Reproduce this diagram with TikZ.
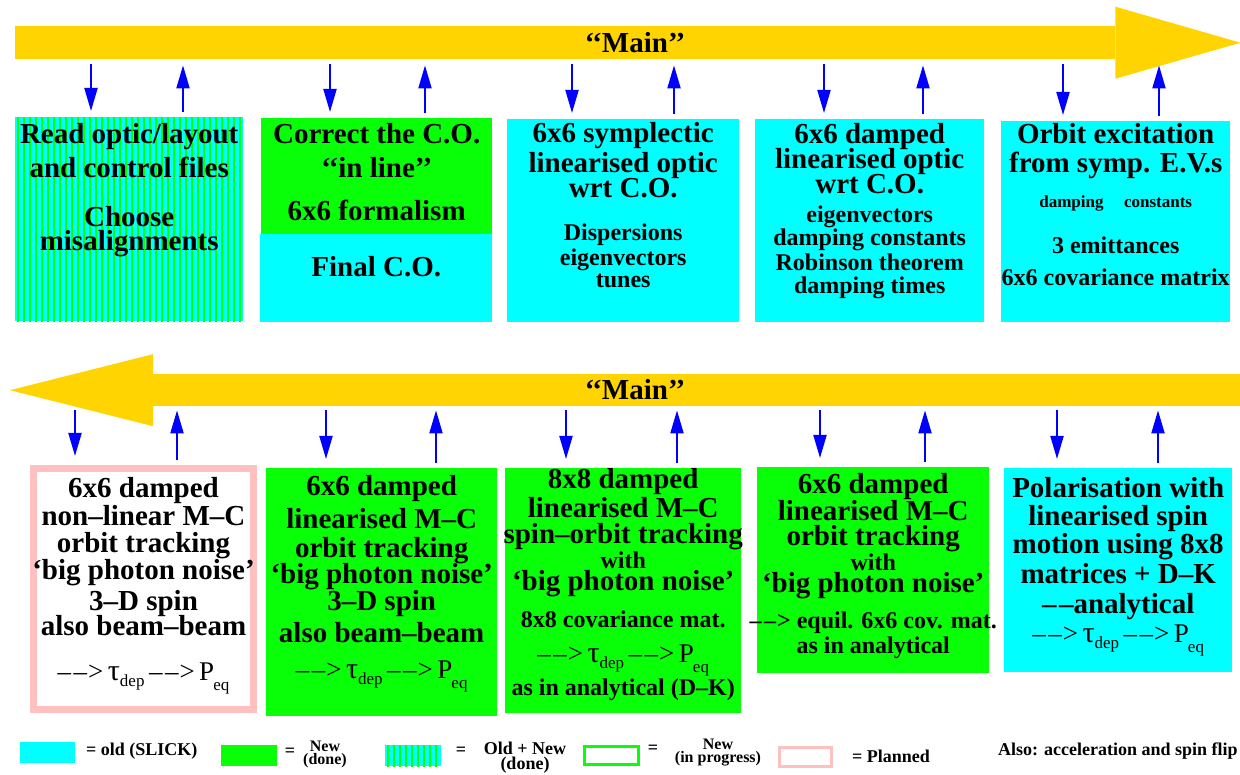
\documentclass[tikz,border=0pt]{standalone}
\usepackage{fontspec}
\setmainfont{Liberation Serif}
\usetikzlibrary{arrows.meta,positioning}
\definecolor{mainyellow}{RGB}{255,212,0}
\definecolor{oldcyan}{RGB}{0,255,255}
\definecolor{newgreen}{RGB}{8,255,8}
\definecolor{planpink}{RGB}{255,192,192}
\newcommand{\Lg}{\fontsize{29}{27}\selectfont}
\newcommand{\Md}{\fontsize{24}{24}\selectfont}
\newcommand{\Sm}{\fontsize{17}{18}\selectfont}
\newcommand{\Lgd}{\fontsize{18}{15}\selectfont\setlength{\lineskiplimit}{-20pt}}
\newcommand{\Lgs}{\fontsize{16}{13}\selectfont\setlength{\lineskiplimit}{-20pt}}
\newcommand{\fst}{\rule{0pt}{20pt}}
\newcommand{\qq}[1]{\textquoteleft\textquoteleft#1\textquoteright\textquoteright}
\newcommand{\dd}{\textendash\kern2.5pt\textendash}
\newcommand{\tdep}{{\fontsize{30}{30}\selectfont τ}\raisebox{-6pt}[0pt][0pt]{\fontsize{17}{17}\selectfont dep}}
\newcommand{\peq}{P\kern-1pt\raisebox{-10pt}[0pt][0pt]{\fontsize{17}{17}\selectfont eq}}
\newcommand{\depline}{{\mdseries\fontsize{27}{27}\selectfont \dd\kern1pt>\,\tdep\,\dd\kern1pt>\,\peq}}
\begin{document}
\begin{tikzpicture}
  [x=1pt,y=-1pt,every node/.style={inner sep=0pt,font=\bfseries\Lg}]
  \tikzstyle{box} = [anchor=north west,rectangle]
  \tikzstyle{txt} = [align=center]
  \tikzstyle{band} = [anchor=north west,fill=mainyellow]
  \tikzstyle{flow} = [draw=blue,line width=2pt,-{Triangle[length=23pt,width=13pt]},shorten <=5pt,shorten >=6pt]
  \tikzstyle{stripes} = [fill=oldcyan,path picture={\foreach \i in {2,8,...,240} \fill[newgreen] ([xshift=\i pt]path picture bounding box.north west) rectangle ++(2pt,-300pt);}]
  \tikzstyle{legtxt} = [font=\bfseries\Lgd,align=center]
  \useasboundingbox (0,0) rectangle (1240,775);
  \clip (0,0) rectangle (1240,775);

  \node[band,minimum width=1100pt,minimum height=33pt] (mainA) at (15,26) {};
  \fill[mainyellow] (mainA.east) ++(0,-36) -- ++(125,36) -- ++(-125,36) -- cycle;
  \node (mainAtxt) at (635,43) {\qq{Main}};
  \node[band,minimum width=1087pt,minimum height=32pt] (mainB) at (153,374) {};
  \fill[mainyellow] (mainB.west) ++(0,-36) -- ++(-143,36) -- ++(143,36) -- cycle;
  \node (mainBtxt) at (635,390) {\qq{Main}};

  \node[box,stripes,minimum width=228pt,minimum height=204pt] (t1) at (15,117) {};
  \node[box,fill=newgreen,minimum width=231pt,minimum height=116pt] (t2) at (261,118) {};
  \node[box,fill=oldcyan,minimum width=232pt,minimum height=88pt] (t2b) at (260,234) {};
  \node[box,fill=oldcyan,minimum width=232pt,minimum height=203pt] (t3) at (507,119) {};
  \node[box,fill=oldcyan,minimum width=229pt,minimum height=203pt] (t4) at (755,119) {};
  \node[box,fill=oldcyan,minimum width=229pt,minimum height=201pt] (t5) at (1001,121) {};

  \node[box,draw=planpink,fill=white,line width=7pt,minimum width=220pt,minimum height=241pt] (b1) at (30,465) {};
  \node[box,fill=newgreen,minimum width=231pt,minimum height=248pt] (b2) at (266,468) {};
  \node[box,fill=newgreen,minimum width=236pt,minimum height=245pt] (b3) at (505,468) {};
  \node[box,fill=newgreen,minimum width=232pt,minimum height=206pt] (b4) at (757,467) {};
  \node[box,fill=oldcyan,minimum width=228pt,minimum height=204pt] (b5) at (1004,468) {};

  \foreach \b/\d/\u in {t1/76/168,t2/69/164,t3/65/167,t4/69/168,t5/62/158}{
    \path (\b.north west) ++(\d,0) coordinate (dn) (\b.north west) ++(\u,0) coordinate (up);
    \draw[flow] (dn |- mainA.south) -- (dn);
    \draw[flow] (up) -- (up |- mainA.south);
  }
  \foreach \b/\d/\u in {b1/45/147,b2/60/170,b3/61/172,b4/63/168,b5/53/154}{
    \path (\b.north west) ++(\d,0) coordinate (dn) (\b.north west) ++(\u,0) coordinate (up);
    \draw[flow,shorten <=4pt,shorten >=9pt] (dn |- mainB.south) -- (dn);
    \draw[flow,shorten >=4pt] (up) -- (up |- mainB.south);
  }

  \node[txt,below=6pt of t1.north] (t1txt) {\fst Read optic/layout\\[7pt]and control files\\[22pt]Choose\\[-3pt]misalignments};
  \node[txt,below=5pt of t2.north] (t2txt) {\fst Correct the C.O.\\[7pt]\qq{in line}\\[16pt]6x6 formalism};
  \node[txt,below=22pt of t2b.north] (t2btxt) {\fst Final C.O.};
  \node[txt,below=3pt of t3.north] (t3txt) {\fst 6x6 symplectic\\[3pt]linearised optic\\[-2pt]wrt C.O.\\[16pt]\Md Dispersions\\[-2pt]\Md eigenvectors\\[-5pt]\Md tunes};
  \node[txt,below=4pt of t4.north] (t4txt) {\fst 6x6 damped\\[-2pt]linearised optic\\[-2pt]wrt C.O.\\[2pt]\Md eigenvectors\\[-4pt]\Md damping constants\\[-2pt]\Md Robinson theorem\\[-4pt]\Md damping times};
  \node[txt,below=2pt of t5.north] (t5txt) {\fst Orbit excitation\\[2pt]from symp. E.V.s\\[8pt]\Sm damping\hspace{1.2em}constants\\[19pt]\Md 3 emittances\\[5pt]\Md 6x6 covariance matrix};

  \node[txt,below=12pt of b1.north] (b1txt) {\fst 6x6 damped\\[1pt]non--linear M--C\\orbit tracking\\`big photon noise'\\[4pt]3--D spin\\[-2pt]also beam--beam\\[18pt]\depline};
  \node[txt,below=7pt of b2.north] (b2txt) {\fst 6x6 damped\\[6pt]linearised M--C\\[2pt]orbit tracking\\[-1pt]`big photon noise'\\3--D spin\\[5pt]also beam--beam\\[9pt]\depline};
  \node[txt,below=0pt of b3.north] (b3txt) {\fst 8x8 damped\\[2pt]linearised M--C\\[-1pt]spin--orbit tracking\\[-2pt]\Md with\\[-5pt]`big photon noise'\\[10pt]\Md 8x8 covariance mat.\\[8pt]\depline\\[6pt]\Md as in analytical (D--K)};
  \node[txt,below=6pt of b4.north] (b4txt) {\fst 6x6 damped\\linearised M--C\\[-2pt]orbit tracking\\[-2pt]\Md with\\[-5pt]`big photon noise'\\[9pt]\Md \dd\kern1pt> equil. 6x6 cov. mat.\\[-2pt]\Md as in analytical};
  \node[txt,below=9pt of b5.north] (b5txt) {\fst Polarisation with\\[1pt]linearised spin\\[1pt]motion using 8x8\\[3pt]matrices + D--K\\[3pt]\dd{}analytical\\[2pt]\depline};

  \node[box,fill=oldcyan,minimum width=55pt,minimum height=21pt] (leg1) at (20,742) {};
  \node[legtxt,anchor=west] (leg1txt) at (86,751) {= old (SLICK)};
  \node[box,fill=newgreen,minimum width=56pt,minimum height=21pt] (leg2) at (221,745) {};
  \node[legtxt] (leg2eq) at (290,752) {=};
  \node[legtxt,font=\bfseries\Lgs] (leg2txt) at (325,754) {New\\(done)};
  \node[box,stripes,minimum width=56pt,minimum height=21pt] (leg3) at (385,745) {};
  \node[legtxt] (leg3eq) at (461,751) {=};
  \node[legtxt] (leg3txt) at (525,758) {Old + New\\(done)};
  \node[box,draw=newgreen,line width=3pt,minimum width=54pt,minimum height=18pt] (leg4) at (583,745) {};
  \node[legtxt] (leg4eq) at (653,749) {=};
  \node[legtxt,font=\bfseries\Lgs] (leg4txt) at (718,753) {New\\(in progress)};
  \node[box,draw=planpink,line width=3pt,minimum width=52pt,minimum height=19pt] (leg5) at (778,746) {};
  \node[legtxt,anchor=west] (leg5txt) at (852,756) {= Planned};
  \node[legtxt,anchor=west] (alsotxt) at (998,751) {Also: acceleration and spin flip};
\end{tikzpicture}
\end{document}
